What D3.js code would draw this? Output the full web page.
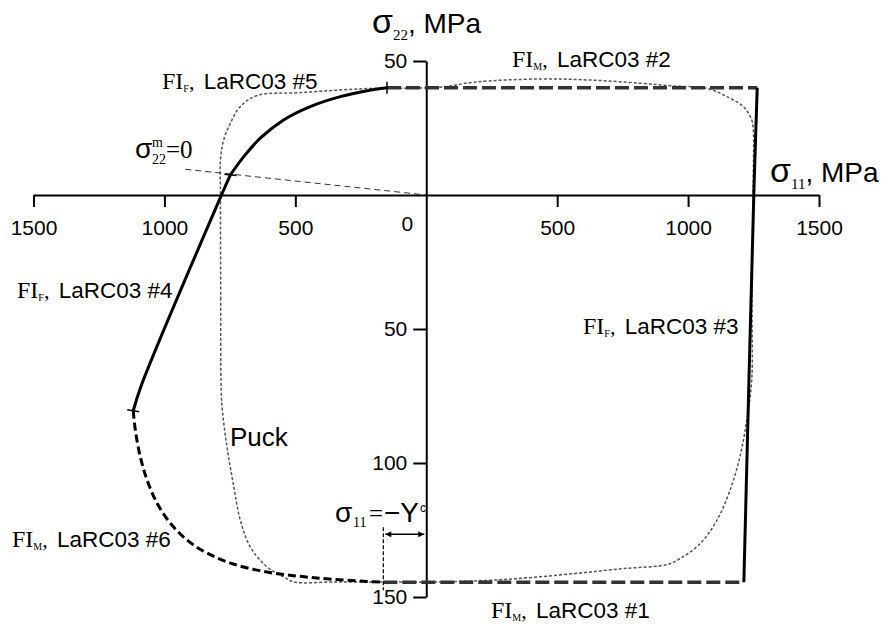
<!DOCTYPE html>
<html>
<head>
<meta charset="utf-8">
<script src="https://cdn.jsdelivr.net/npm/d3@7"></script>
<style>
  body { margin: 0; background: #fff; }
  text { font-family: "Liberation Sans", Arial, sans-serif; fill: #000; }
  .serif { font-family: "Liberation Serif", "Times New Roman", serif; }
</style>
</head>
<body>
<script>
// failure envelope, sigma11 vs sigma22 (MPa)
const width = 893, height = 624

const xTicks = [-1500, -1000, -500, 500, 1000, 1500]
const yTicks = [50, -50, -100, -150]

// LaRC03 criteria segments, [sigma11, sigma22]
const larc1 = [[-164, -144.5], [1213, -144.5]]
const larc2 = [[-150, 40], [1264, 40]]
const larc3 = [[1264, 40], [1251, 0], [1213, -144.5]]
const larc4 = [[-1119, -80.5], [-1088, -71], [-782, 0], [-748, 7.5]]
const larc5 = [[-748, 7.5], [-697, 14.3], [-634, 21.2], [-545, 28], [-443, 33],
  [-328, 36.7], [-226, 38.9], [-150, 40]]
const larc6 = [[-1119, -80.5], [-1111, -87.8], [-1092, -97.7], [-1066, -106.4],
  [-1028, -115], [-977, -122.5], [-913, -128.8], [-837, -133.6], [-737, -137.7],
  [-608, -140.7], [-481, -142.3], [-355, -143.4], [-164, -144.5]]

// Puck envelope
const puck = [[-784, -69], [-785, -39], [-786, 0], [-786, 13], [-774, 20.5],
  [-748, 26.8], [-710, 33], [-646, 37.1], [-481, 38.2], [-226, 39.7], [53, 40.2],
  [181, 42.1], [435, 43.3], [626, 42.9], [817, 41.7], [943, 40.7], [1071, 39.8],
  [1148, 36.7], [1211, 33], [1243, 28], [1249, 24.3], [1248, 0], [1244, -39],
  [1243, -69], [1224, -84], [1198, -97.7], [1160, -110.2], [1110, -121.4],
  [1046, -130.1], [969, -135.7], [919, -137.9], [753, -139.4], [562, -141.3],
  [308, -143.4], [53, -144.4], [-163, -144.4], [-355, -144.4], [-506, -144.4],
  [-545, -142.5], [-608, -138.8], [-672, -131.3], [-710, -121.4], [-735, -108.9],
  [-761, -94], [-780, -79]]

const matrixZero = [[-920, 9.6], [0, 0]]
const yc = 164

const x = d3.scaleLinear()
    .domain([-1500, 1500])
    .range([33.5, 819])

const y = d3.scaleLinear()
    .domain([50, -150])
    .range([61, 597])

const svg = d3.select("body")
  .append("svg")
    .attr("width", width)
    .attr("height", height)

svg.append("defs").append("marker")
    .attr("id", "head")
    .attr("viewBox", "0 0 10 10")
    .attr("refX", 10)
    .attr("refY", 5)
    .attr("markerWidth", 9)
    .attr("markerHeight", 6)
    .attr("markerUnits", "userSpaceOnUse")
    .attr("orient", "auto-start-reverse")
  .append("path")
    .attr("d", "M0,0L10,5L0,10z")
    .attr("fill", "#000")

const fmt = d => Math.abs(d)

// axes
const xAxis = svg.append("g")
    .attr("transform", "translate(0," + y(0) + ")")
    .call(d3.axisBottom(x).tickValues(xTicks).tickFormat(fmt)
      .tickSize(12).tickSizeOuter(0).tickPadding(13))
xAxis.selectAll("text").attr("font-size", 21).attr("font-family", "Liberation Sans, Arial, sans-serif")

const yAxis = svg.append("g")
    .attr("transform", "translate(" + x(0) + ",0)")
    .call(d3.axisLeft(y).tickValues(yTicks).tickFormat(fmt)
      .tickSize(13).tickSizeOuter(0).tickPadding(6))
yAxis.selectAll("text").attr("font-size", 21).attr("font-family", "Liberation Sans, Arial, sans-serif")

svg.selectAll(".domain, .tick line").attr("stroke", "#000").attr("stroke-width", 2)

svg.append("text")
    .attr("x", x(0) - 19)
    .attr("y", y(0) + 36)
    .attr("text-anchor", "middle")
    .style("font-size", "21px")
    .text("0")

const line = d3.line().x(d => x(d[0])).y(d => y(d[1]))
const smooth = d3.line().x(d => x(d[0])).y(d => y(d[1])).curve(d3.curveCatmullRom)

// Puck
svg.append("path")
    .attr("d", d3.line().x(d => x(d[0])).y(d => y(d[1])).curve(d3.curveCatmullRomClosed)(puck))
    .attr("fill", "none")
    .attr("stroke", "#555")
    .attr("stroke-width", 1.5)
    .attr("stroke-dasharray", "3,2")

// sigma22m = 0 line
svg.append("path")
    .attr("d", line(matrixZero))
    .attr("fill", "none")
    .attr("stroke", "#333")
    .attr("stroke-width", 1)
    .attr("stroke-dasharray", "6,4")

// LaRC03 #1 and #2
svg.selectAll(".matrix")
    .data([larc1, larc2])
    .enter()
    .append("path")
      .attr("class", "matrix")
      .attr("d", line)
      .attr("fill", "none")
      .attr("stroke", "#333")
      .attr("stroke-width", 3.5)
      .attr("stroke-dasharray", "14,5")

// LaRC03 #6
svg.append("path")
    .attr("d", smooth(larc6))
    .attr("fill", "none")
    .attr("stroke", "#000")
    .attr("stroke-width", 3)
    .attr("stroke-dasharray", "8,4")

// LaRC03 #3, #4, #5
svg.selectAll(".fiber")
    .data([larc3, larc4, larc5])
    .enter()
    .append("path")
      .attr("class", "fiber")
      .attr("d", smooth)
      .attr("fill", "none")
      .attr("stroke", "#000")
      .attr("stroke-width", 3)

// segment end marks
const p5 = larc5[larc5.length - 1]
svg.append("line")
    .attr("x1", x(p5[0])).attr("x2", x(p5[0]))
    .attr("y1", y(p5[1]) - 6).attr("y2", y(p5[1]) + 6)
    .attr("stroke", "#000").attr("stroke-width", 1.5)
const p4 = larc4[0]
svg.append("line")
    .attr("x1", x(p4[0]) - 6).attr("x2", x(p4[0]) + 6)
    .attr("y1", y(p4[1]) - 1).attr("y2", y(p4[1]) + 1)
    .attr("stroke", "#000").attr("stroke-width", 1.5)
const pk = larc5[0]
svg.append("line")
    .attr("x1", x(pk[0]) - 6).attr("x2", x(pk[0]) + 6)
    .attr("y1", y(pk[1]) - 0.6).attr("y2", y(pk[1]) + 0.6)
    .attr("stroke", "#000").attr("stroke-width", 1.5)

// sigma11 = -Yc marker
svg.append("line")
    .attr("x1", x(-yc)).attr("x2", x(-yc))
    .attr("y1", y(-124)).attr("y2", y(-147.5))
    .attr("stroke", "#000")
    .attr("stroke-width", 1.2)
    .attr("stroke-dasharray", "4,2")
svg.append("line")
    .attr("x1", x(-yc) + 2).attr("x2", x(0) - 2)
    .attr("y1", y(-126.6)).attr("y2", y(-126.6))
    .attr("stroke", "#000")
    .attr("stroke-width", 1.5)
    .attr("marker-start", "url(#head)")
    .attr("marker-end", "url(#head)")

// labels
function fiLabel(px, py, sub, num) {
  const t = svg.append("text").attr("x", px).attr("y", py)
  t.append("tspan").attr("class", "serif").style("font-size", "24px").text("FI")
  t.append("tspan").attr("class", "serif").style("font-size", "10px").attr("dy", 3).text(sub)
  t.append("tspan").attr("class", "serif").style("font-size", "22px").attr("dy", -3).text(",")
  t.append("tspan").style("font-size", "22.5px").attr("dx", 3).text(" LaRC03 " + num)
}

fiLabel(162, 88.5, "F", "#5")
fiLabel(512, 66.5, "M", "#2")
fiLabel(17, 298, "F", "#4")
fiLabel(583, 334, "F", "#3")
fiLabel(12, 546.5, "M", "#6")
fiLabel(491, 618, "M", "#1")

svg.append("text")
    .attr("x", 230)
    .attr("y", 446)
    .style("font-size", "26px")
    .text("Puck")

// axis titles
function sigmaTitle(px, py, sub) {
  const t = svg.append("text").attr("x", px).attr("y", py)
  t.append("tspan").style("font-size", "34px").text("σ")
  t.append("tspan").attr("class", "serif").style("font-size", "15px").attr("dy", 7).text(sub)
  t.append("tspan").style("font-size", "28px").attr("dy", -7).text(", MPa")
}
sigmaTitle(372, 33, "22")
sigmaTitle(770, 182, "11")

// sigma22m = 0
const s22 = svg.append("text").attr("x", 135).attr("y", 158)
s22.append("tspan").style("font-size", "28px").text("σ")
s22.append("tspan").attr("class", "serif").style("font-size", "14px").attr("x", 152).attr("y", 164).text("22")
s22.append("tspan").attr("class", "serif").style("font-size", "14px").attr("x", 152).attr("y", 147).text("m")
s22.append("tspan").attr("class", "serif").style("font-size", "25px").attr("x", 166).attr("y", 158).text("=0")

// sigma11 = -Yc
const s11 = svg.append("text").attr("x", 335).attr("y", 521.5)
s11.append("tspan").style("font-size", "28px").text("σ")
s11.append("tspan").attr("class", "serif").style("font-size", "14px").attr("x", 353).attr("y", 527).text("11")
s11.append("tspan").attr("class", "serif").style("font-size", "25px").attr("x", 369).attr("y", 521.5).text("=")
s11.append("tspan").style("font-size", "28px").attr("x", 384).attr("y", 521.5).text("−Y")
s11.append("tspan").style("font-size", "12px").attr("x", 420).attr("y", 512).text("c")
</script>
</body>
</html>
